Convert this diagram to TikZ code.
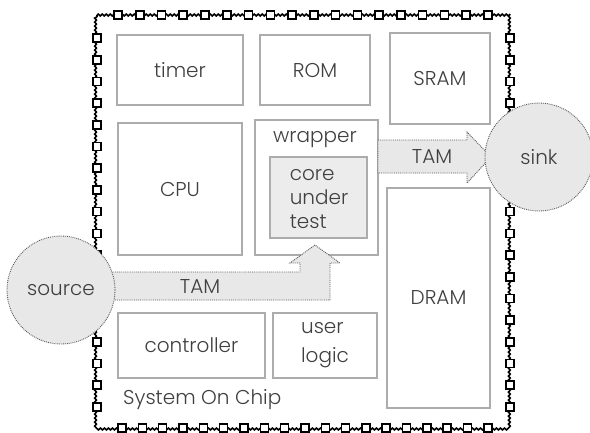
\documentclass[tikz,border=0pt]{standalone}
\usepackage{fontspec}
\setmainfont{Poppins}[UprightFont={* Light}]
\usetikzlibrary{decorations.pathmorphing}
\begin{document}
\begin{tikzpicture}[x=1pt,y=-1pt,
  blk/.style={draw=gray!65, line width=2pt, fill=white, inner sep=0pt},
  lbl/.style={font=\fontsize{20}{24}\selectfont, text=black!75, inner sep=0pt},
  flow/.style={draw=black!65, densely dotted, line width=0.9pt, fill=gray!18},
  pin/.style={draw=black, fill=white, line width=1.6pt, minimum size=8pt, inner sep=0pt, rectangle},
  chipline/.style={draw=black, line width=1.6pt, decorate, decoration={snake, amplitude=0.9pt, segment length=4pt}},
]
\useasboundingbox (0,0) rectangle (590,432);
\fill[white] (0,0) rectangle (590,432);

% chip border with pins
\coordinate (c1) at (97,15);
\coordinate (c2) at (510,15);
\coordinate (c3) at (510,428);
\coordinate (c4) at (97,428);
\draw[chipline] (c1) -- (c2) -- (c3) -- (c4) -- cycle;
\foreach \i in {0,...,17} {
  \node[pin] (pt\i) at ({118+\i*21.76},15) {};
  \node[pin] (pl\i) at (97,{38+\i*21.7}) {};
  \node[pin] (pr\i) at (510,{38+\i*21.7}) {};
}
\foreach \i in {0,...,18} {
  \node[pin] (pb\i) at ({122+\i*20.33},428) {};
}

% blocks
\node[blk, lbl, minimum width=126pt, minimum height=70pt] (timer) at (180,70) {timer};
\node[blk, lbl, minimum width=110pt, minimum height=70pt] (rom) at (315,70) {ROM};
\node[blk, lbl, minimum width=100pt, minimum height=91pt] (sram) at (440,78.5) {SRAM};
\node[blk, lbl, minimum width=124pt, minimum height=132pt] (cpu) at (180,189) {CPU};
\node[blk, minimum width=123pt, minimum height=135pt] (wrapper) at (316.5,187.5) {};
\node[lbl] (wraplbl) at (315,140) {wrapper};
\node[blk, fill=gray!15, minimum width=97pt, minimum height=81pt] (core) at (318.5,197.5) {};
\node[lbl, align=left] (corelbl) at (319,199) {core\\under\\test};
\node[blk, lbl, minimum width=103pt, minimum height=220pt] (dram) at (438.5,298) {DRAM};
\node[blk, lbl, minimum width=147pt, minimum height=65pt] (ctrl) at (191.5,345.5) {controller};
\node[blk, lbl, minimum width=104pt, minimum height=65pt, align=left, font=\fontsize{20}{29}\selectfont] (user) at (325,345.5) {user\\logic};
\node[lbl, anchor=west] (soc) at (123,400) {System On Chip};

% TAM arrows
\draw[flow] (378,140) -- (467,140) -- (467,132) -- (491,157) -- (467,183) -- (467,173) -- (378,173) -- cycle;
\node[lbl] (tam1) at (432,157) {TAM};
\draw[flow] (100,272) -- (300,272) -- (300,263) -- (290,263) -- (315,245) -- (340,263) -- (330,263) -- (330,300) -- (100,300) -- cycle;
\node[lbl] (tam2) at (200,287) {TAM};

% source and sink
\node[circle, flow, lbl, minimum size=108pt] (source) at (61,290) {source};
\node[circle, flow, lbl, minimum size=108pt] (sink) at (539,157) {sink};
\end{tikzpicture}
\end{document}
